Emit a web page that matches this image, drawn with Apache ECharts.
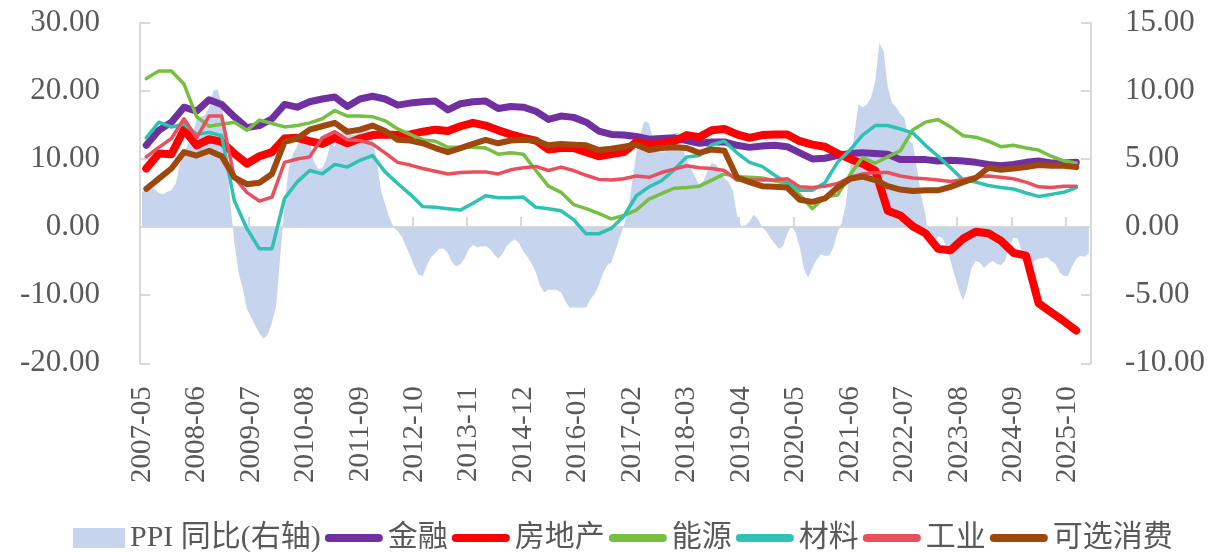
<!DOCTYPE html>
<html>
<head>
<meta charset="utf-8">
<script src="https://cdn.jsdelivr.net/npm/echarts@6/dist/echarts.min.js"></script>
<style>
html, body { margin: 0; padding: 0; background: #fff; }
#chart { width: 1208px; height: 552px; }
</style>
</head>
<body>
<div id="chart"></div>
<script>
// 月份类目：2007-05 起，共 227 个
let startYear = 2007, startMonth = 5, monthCount = 227;
let months = [];
for (let i = 0; i < monthCount; i++) {
	let m = startMonth - 1 + i;
	let y = startYear + Math.floor(m / 12);
	months.push(y + "-" + String(m % 12 + 1).padStart(2, "0"));
}

// PPI 同比(右轴)，按图中位置逐月读取
let ppi = [
	2.6, 2.7, 2.9, 2.8, 2.5, 2.4, 2.6, 2.7, 3.2, 4.6, 5.4,
	6.1, 6.6, 8.0, 8.1, 8.2, 8.8, 10.0, 10.1, 9.1, 6.6, 2.0, -1.1,
	-3.3, -4.5, -6.0, -6.6, -7.2, -7.8, -8.2, -7.9, -7.0, -5.8, -2.1, 1.7,
	4.3, 5.4, 5.9, 6.8, 7.1, 6.4, 4.8, 4.3, 4.3, 5.0, 6.1, 5.9,
	6.6, 7.2, 7.3, 6.8, 6.8, 7.1, 7.5, 7.3, 6.5, 5.0, 2.7, 1.7,
	0.7, 0.0, -0.3, -0.7, -1.4, -2.1, -2.9, -3.5, -3.6, -2.8, -2.2, -1.9,
	-1.6, -1.6, -1.9, -2.6, -2.9, -2.7, -2.3, -1.6, -1.3, -1.5, -1.4, -1.4,
	-1.6, -2.0, -2.3, -2.0, -1.4, -1.1, -0.9, -1.2, -1.8, -2.2, -2.7, -3.3,
	-4.3, -4.8, -4.6, -4.6, -4.6, -4.8, -5.4, -5.9, -5.9, -5.9, -5.9, -5.9,
	-5.3, -4.9, -4.3, -3.4, -2.8, -2.6, -1.7, -0.8, 0.1, 1.2, 3.3, 5.5,
	6.9, 7.8, 7.6, 6.4, 5.5, 5.5, 5.5, 6.3, 6.9, 6.9, 5.8, 4.9,
	4.3, 3.7, 3.1, 3.4, 4.1, 4.7, 4.6, 4.1, 3.6, 3.3, 2.7, 0.9,
	0.1, 0.1, 0.4, 0.9, 0.6, 0.0, -0.3, -0.8, -1.2, -1.6, -1.4, -0.5,
	0.1, -0.4, -1.5, -3.1, -3.7, -3.0, -2.4, -2.0, -2.1, -2.1, -1.5, -0.4,
	0.3, 1.7, 4.4, 6.8, 9.0, 8.8, 9.0, 9.5, 10.7, 13.5, 12.9, 10.3,
	9.1, 8.8, 8.3, 8.0, 6.4, 6.1, 4.2, 2.3, 0.9, -1.3, -1.3, -0.7,
	-0.8, -1.4, -2.5, -3.6, -4.6, -5.4, -4.4, -3.0, -2.5, -2.6, -3.0, -2.7,
	-2.5, -2.7, -2.8, -2.5, -1.4, -0.8, -0.8, -1.8, -2.8, -2.9, -2.5, -2.3,
	-2.3, -2.2, -2.5, -2.7, -3.3, -3.6, -3.6, -2.9, -2.3, -2.1, -2.2, -1.9
];

// 行业序列：季度点，落在第 1,4,7,...,223 个类目上
let finance = [
	12.0, 14.2, 15.4, 17.6, 17.0, 18.7, 18.0, 16.2, 14.6, 14.9, 15.9, 18.0, 17.6,
	18.4, 18.8, 19.1, 17.7, 18.8, 19.2, 18.8, 17.9, 18.2, 18.4, 18.5, 17.2,
	18.1, 18.4, 18.5, 17.4, 17.7, 17.6, 17.0, 15.8, 16.3, 16.1, 15.4, 14.1, 13.6,
	13.5, 13.3, 12.9, 13.0, 13.1, 12.7, 12.3, 12.5, 12.5, 12.0, 11.7, 11.9, 12.0,
	11.8, 10.9, 10.0, 10.1, 10.5, 10.8, 10.9, 10.8, 10.7, 9.9, 9.9, 9.9, 9.7,
	9.8, 9.7, 9.5, 9.2, 9.0, 9.2, 9.5, 9.7, 9.4, 9.4, 9.5
];
let realEstate = [
	8.6, 10.8, 10.7, 14.3, 12.0, 12.9, 12.5, 10.8, 9.3, 10.4, 11.0, 13.0, 13.1,
	12.6, 12.2, 13.1, 12.3, 13.0, 13.5, 13.6, 13.5, 13.6, 14.0, 14.3, 14.1,
	14.8, 15.3, 14.9, 14.2, 13.6, 13.1, 12.7, 11.4, 11.6, 11.6, 11.0, 10.4, 10.7,
	11.0, 12.5, 12.1, 12.3, 12.6, 13.5, 13.2, 14.2, 14.4, 13.6, 13.1, 13.5, 13.6,
	13.6, 12.6, 12.1, 11.8, 10.8, 10.0, 9.3, 8.3, 2.4, 1.7, 0.1, -0.9, -3.2,
	-3.4, -1.7, -0.7, -0.9, -2.0, -3.8, -4.2, -11.2, -12.5, -13.8, -15.2
];
let energy = [
	21.8, 22.9, 22.9, 21.0, 16.2, 14.8, 15.1, 15.4, 14.2, 15.7, 15.2, 14.7, 14.9,
	15.3, 15.9, 17.1, 16.3, 16.3, 16.2, 15.6, 14.4, 13.6, 12.8, 12.6, 11.7,
	11.7, 11.7, 11.6, 10.7, 10.9, 10.7, 8.3, 6.0, 5.1, 3.3, 2.7, 2.0, 1.2,
	1.7, 2.5, 4.1, 4.9, 5.7, 5.8, 6.0, 6.9, 7.8, 7.4, 7.3, 7.2, 6.8,
	6.4, 4.7, 2.7, 4.4, 4.7, 7.7, 10.2, 9.4, 10.3, 11.2, 14.3, 15.4, 15.8,
	14.7, 13.4, 13.2, 12.6, 11.8, 12.0, 11.6, 11.3, 10.4, 9.7, 9.4
];
let materials = [
	13.1, 15.4, 14.7, 15.1, 13.6, 13.9, 13.4, 3.9, -0.2, -3.2, -3.2, 4.2, 6.6,
	8.3, 7.8, 9.2, 8.8, 9.8, 10.5, 8.1, 6.4, 4.8, 3.0, 2.9, 2.7,
	2.5, 3.5, 4.6, 4.3, 4.3, 4.4, 2.9, 2.7, 2.4, 1.1, -1.0, -1.0, -0.2,
	1.6, 4.6, 5.9, 6.8, 8.4, 10.3, 10.5, 12.1, 12.6, 10.9, 9.5, 8.9, 7.6,
	6.5, 5.4, 5.4, 6.5, 9.5, 11.3, 13.5, 14.9, 14.9, 14.4, 13.8, 12.0, 10.4,
	8.7, 6.9, 6.6, 6.1, 5.8, 5.6, 5.0, 4.5, 4.8, 5.1, 5.8
];
let industry = [
	10.3, 11.7, 13.0, 15.9, 13.1, 16.3, 16.3, 7.3, 5.1, 3.8, 4.4, 9.5, 10.0,
	10.3, 13.1, 14.0, 12.8, 12.7, 12.2, 10.9, 9.5, 9.1, 8.6, 8.2, 7.8,
	8.0, 8.1, 8.1, 7.8, 8.4, 8.7, 8.9, 8.3, 8.8, 8.3, 7.6, 7.0, 6.9,
	7.1, 7.5, 7.3, 8.0, 8.5, 9.0, 8.7, 8.6, 8.3, 6.9, 6.9, 6.9, 6.9,
	7.1, 5.9, 5.8, 6.0, 6.4, 7.3, 7.8, 8.0, 8.0, 7.5, 7.2, 7.1, 6.9,
	6.7, 7.0, 7.4, 7.5, 7.3, 7.1, 6.6, 5.9, 5.8, 6.0, 6.0
];
let consumer = [
	5.6, 7.1, 8.6, 11.0, 10.5, 11.2, 10.4, 7.3, 6.3, 6.5, 7.8, 12.5, 13.0,
	14.3, 14.8, 15.3, 14.0, 14.3, 14.9, 14.1, 12.8, 12.7, 12.3, 11.6, 11.0,
	11.6, 12.2, 12.8, 12.3, 12.7, 12.8, 12.7, 12.0, 12.2, 12.1, 12.0, 11.3, 11.5,
	11.8, 12.1, 11.3, 11.6, 11.7, 11.6, 10.9, 11.4, 11.2, 7.3, 6.6, 6.0, 5.9,
	5.8, 4.0, 3.7, 4.2, 5.8, 7.1, 7.4, 6.9, 6.0, 5.5, 5.3, 5.4, 5.4,
	5.9, 6.6, 7.2, 8.7, 8.4, 8.6, 8.8, 9.1, 9.0, 9.0, 8.8
];

let sectorNames = ["金融", "房地产", "能源", "材料", "工业", "可选消费"];
let sectorData = [finance, realEstate, energy, materials, industry, consumer];
let sectorColors = ["#7030A0", "#FF0000", "#76BF42", "#2EC2B2", "#E8505E", "#9E480E"];
let sectorWidths = [7, 8, 3.5, 3.5, 3.5, 6];
let ppiName = "PPI 同比(右轴)";
let ppiColor = "#C6D4EE";

let labelFont = "'Liberation Serif', 'Noto Sans CJK SC', serif";
let textColor = "#595959";
let axisColor = "#D9D9D9";

// 图例图标：四角留空点以固定外框，线条为圆头粗横条，PPI 为色块
let legendBar = "path://M0,0L0,0M58,20L58,20M4,6L54,6A4,4 0 0 1 54,14L4,14A4,4 0 0 1 4,6Z";
let legendBox = "path://M0,0L0,0M58,20L58,20M6,0L58,0L58,20L6,20Z";

let chart = echarts.init(document.getElementById("chart"), null, { renderer: "canvas" });

let lineSeries = sectorNames.map((name, k) => {
	return {
		name: name,
		type: "line",
		xAxisIndex: 0,
		yAxisIndex: 0,
		symbol: "none",
		smooth: false,
		z: 3 + k,
		lineStyle: { color: sectorColors[k], width: sectorWidths[k], join: "round", cap: "round" },
		itemStyle: { color: sectorColors[k] },
		data: sectorData[k].map((v, j) => [1 + 3 * j, v])
	};
});

let option = {
	animation: false,
	backgroundColor: "#fff",
	grid: { left: 140, right: 117, top: 22.7, bottom: 188.7, containLabel: false },
	legend: {
		left: 62,
		top: 518,
		itemWidth: 58,
		itemHeight: 20,
		itemGap: 4,
		textStyle: { fontFamily: labelFont, fontSize: 30, color: textColor },
		data: [
			{ name: ppiName, icon: legendBox, itemStyle: { color: ppiColor } }
		].concat(sectorNames.map((n, k) => ({ name: n, icon: legendBar, itemStyle: { color: sectorColors[k] } })))
	},
	xAxis: [
		{
			type: "category",
			data: months,
			boundaryGap: true,
			position: "bottom",
			axisLine: { show: false, onZero: false },
			axisTick: { show: false },
			axisLabel: {
				rotate: 90,
				margin: 23,
				fontFamily: labelFont,
				fontSize: 29,
				color: textColor,
				interval: (i) => i % 13 === 0 && i <= 221
			},
			splitLine: { show: false }
		},
		{
			type: "category",
			data: months,
			boundaryGap: true,
			position: "bottom",
			axisLine: { show: true, onZero: true, onZeroAxisIndex: 0, lineStyle: { color: axisColor, width: 2 } },
			axisTick: {
				show: true,
				inside: true,
				length: 10,
				lineStyle: { color: axisColor, width: 2 },
				interval: (i) => i > 0 && i % 13 === 0 && i <= 221
			},
			axisLabel: { show: false },
			splitLine: { show: false }
		}
	],
	yAxis: [
		{
			type: "value",
			min: -20,
			max: 30,
			interval: 10,
			position: "left",
			axisLine: { show: true, lineStyle: { color: axisColor, width: 2 } },
			axisTick: { show: true, inside: true, length: 10, lineStyle: { color: axisColor, width: 2 } },
			axisLabel: {
				margin: 40,
				fontFamily: labelFont,
				fontSize: 31,
				color: textColor,
				formatter: v => v.toFixed(2)
			},
			splitLine: { show: false }
		},
		{
			type: "value",
			min: -10,
			max: 15,
			interval: 5,
			position: "right",
			axisLine: { show: true, lineStyle: { color: axisColor, width: 2 } },
			axisTick: { show: true, inside: true, length: 10, lineStyle: { color: axisColor, width: 2 } },
			axisLabel: {
				margin: 34,
				fontFamily: labelFont,
				fontSize: 31,
				color: textColor,
				formatter: v => v.toFixed(2)
			},
			splitLine: { show: false }
		}
	],
	series: [
		{
			name: ppiName,
			type: "line",
			xAxisIndex: 0,
			yAxisIndex: 1,
			symbol: "none",
			z: 1,
			lineStyle: { width: 0 },
			itemStyle: { color: ppiColor },
			areaStyle: { color: ppiColor, opacity: 1 },
			data: ppi
		}
	].concat(lineSeries)
};

chart.setOption(option);
</script>
</body>
</html>
